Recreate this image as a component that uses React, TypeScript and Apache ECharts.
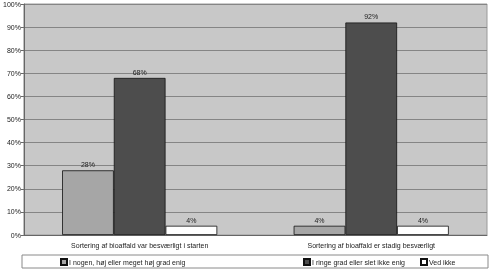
import React, { useEffect, useRef } from "react";
import * as echarts from "echarts";

const categories = [
  "Sortering af bioaffald var besværligt i starten",
  "Sortering af bioaffald er stadig besværligt",
];
const seriesNames = [
  "I nogen, høj eller meget høj grad enig",
  "I ringe grad eller slet ikke enig",
  "Ved ikke",
];
const agreeValues = [28, 4];
const disagreeValues = [68, 92];
const dontKnowValues = [4, 4];
const seriesColors = ["#a6a6a6", "#4d4d4d", "#ffffff"];

export default function App() {
  const ref = useRef<HTMLDivElement>(null);
  useEffect(() => {
    if (!ref.current) return;
    const chart = echarts.init(ref.current, null, { renderer: "svg" });
    const font = "Liberation Sans, Arial, sans-serif";
    const values = [agreeValues, disagreeValues, dontKnowValues];
    const legendLefts = [60, 303, 420];
    chart.setOption({
      animation: false,
      textStyle: { fontFamily: font },
      grid: {
        left: 23,
        right: 3,
        top: 4,
        bottom: 34,
        show: true,
        backgroundColor: "#c8c8c8",
        borderColor: "#9a9a9a",
        borderWidth: 1,
      },
      graphic: [
        {
          type: "rect",
          shape: { x: 22, y: 255, width: 466, height: 13 },
          style: { fill: "#ffffff", stroke: "#8a8a8a", lineWidth: 1 },
          z: -1,
        },
      ],
      legend: seriesNames.map((n, i) => ({
        data: [n],
        left: legendLefts[i],
        top: 258,
        padding: 0,
        itemWidth: 6,
        itemHeight: 6,
        itemGap: 2,
        icon: "rect",
        textStyle: {
          fontSize: 7,
          color: "#222",
          fontFamily: font,
          lineHeight: 7,
          padding: [0, 0, 0, -3],
        },
      })),
      xAxis: {
        type: "category",
        data: categories,
        axisLine: { lineStyle: { color: "#666" } },
        axisTick: { show: false },
        axisLabel: { fontSize: 7, color: "#222", margin: 7, fontFamily: font },
      },
      yAxis: {
        type: "value",
        min: 0,
        max: 100,
        interval: 10,
        axisLine: { show: true, lineStyle: { color: "#666" } },
        axisTick: { show: true, inside: false, length: 3, lineStyle: { color: "#666" } },
        axisLabel: { fontSize: 7, color: "#222", margin: 3, formatter: "{value}%", fontFamily: font },
        splitLine: { lineStyle: { color: "#858585", width: 1 } },
      },
      series: seriesNames.map((n, i) => ({
        name: n,
        type: "bar",
        data: values[i],
        barGap: "0%",
        barCategoryGap: "33%",
        itemStyle: { color: seriesColors[i], borderColor: "#111", borderWidth: 0.8 },
        label: {
          show: true,
          position: "top",
          distance: 2,
          fontSize: 7,
          color: "#222",
          formatter: "{c}%",
          fontFamily: font,
        },
      })),
    });
    return () => chart.dispose();
  }, []);
  return (
    <div
      ref={ref}
      style={{ position: "fixed", left: 0, top: 0, width: 490, height: 269 }}
    />
  );
}
